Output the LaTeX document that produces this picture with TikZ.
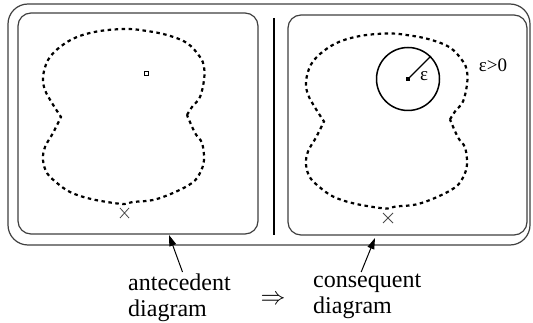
\documentclass[tikz,border=0pt]{standalone}
\usepackage{fontspec}
\setmainfont{Liberation Serif}
\newfontfamily\tnr{Liberation Serif}
\usetikzlibrary{arrows.meta,calc}
\begin{document}
\begin{tikzpicture}[x=1pt,y=-1pt,
  frame/.style={draw=black!75, line width=1.2pt, rounded corners=20pt},
  panel/.style={draw=black!75, line width=1.2pt, rounded corners=13pt},
  boundary/.style={line width=2.2pt, dash pattern=on 3.5pt off 3.5pt},
  lbl/.style={font=\tnr\fontsize{24}{26}\selectfont, align=left, inner sep=0pt},
  small/.style={font=\tnr\fontsize{19}{21}\selectfont, inner sep=0pt},
  pointer/.style={line width=1pt, -{Triangle[length=11pt,width=7pt]}},
  cross/.style={line width=0.8pt, draw=black!70}]
\useasboundingbox (0,0) rectangle (533,323);
\fill[white] (0,0) rectangle (533,323);

% frames
\draw[frame] (8,4) rectangle (530,245);
\draw[panel] (18,13) rectangle (258,234);
\draw[panel] (288,15) rectangle (527,235);
\draw[line width=2pt] (274,18) -- (274,235);

% boundaries
\foreach \dx/\dy in {0/0, 263/4.5}{
\begin{scope}[shift={(\dx,\dy)}]
\draw[boundary] plot[smooth, tension=0.6] coordinates {(187,115) (192,107) (200,97) (204,80) (204,67) (200,57) (187,43) (167,35) (147,31) (127,29) (100,31) (77,37) (60,47) (48,60) (43,77) (45,90) (52,103) (61,117)}
 -- plot[smooth, tension=0.6] coordinates {(61,117) (53,133) (45,147) (43,160) (47,173) (57,183) (70,192) (87,198) (107,202) (124,204) (133,202) (153,200) (173,193) (192,183) (200,173) (204,160) (202,143) (195,133) (187,115)};
\end{scope}}

% X markers
\draw[cross] (120,208) -- (129,218) (120,218) -- (129,208);
\draw[cross] (383,213) -- (393,223) (383,223) -- (393,213);

% left point
\node[draw, line width=1pt, minimum size=4pt, inner sep=0pt] (p1) at (146,74) {};

% right point with epsilon ball
\node[fill, minimum size=3.5pt, inner sep=0pt] (p2) at (408,79) {};
\node[draw, circle, line width=1.5pt, minimum size=63pt, inner sep=0pt] (ball) at (408,79) {};
\draw[line width=1.3pt] (p2.center) -- (ball.45);
\node[small] (eps) at (424,76) {ε};
\node[small] (epspos) at (493,65) {ε>0};

% labels
\node[lbl, anchor=north west] (ante) at (128,274) {antecedent\\diagram};
\node[lbl, anchor=north west] (cons) at (313,274) {consequent\\diagram};
\node[font=\fontsize{24}{26}\selectfont, inner sep=0pt] (impl) at (273,300) {$\Rightarrow$};

\coordinate (lt) at (169,235);
\coordinate (rt) at (375,238);
\draw[pointer] ($(ante.north)+(3,-2)$) -- (lt);
\draw[pointer] ($(cons.north)+(-6,-2)$) -- (rt);
\end{tikzpicture}
\end{document}
